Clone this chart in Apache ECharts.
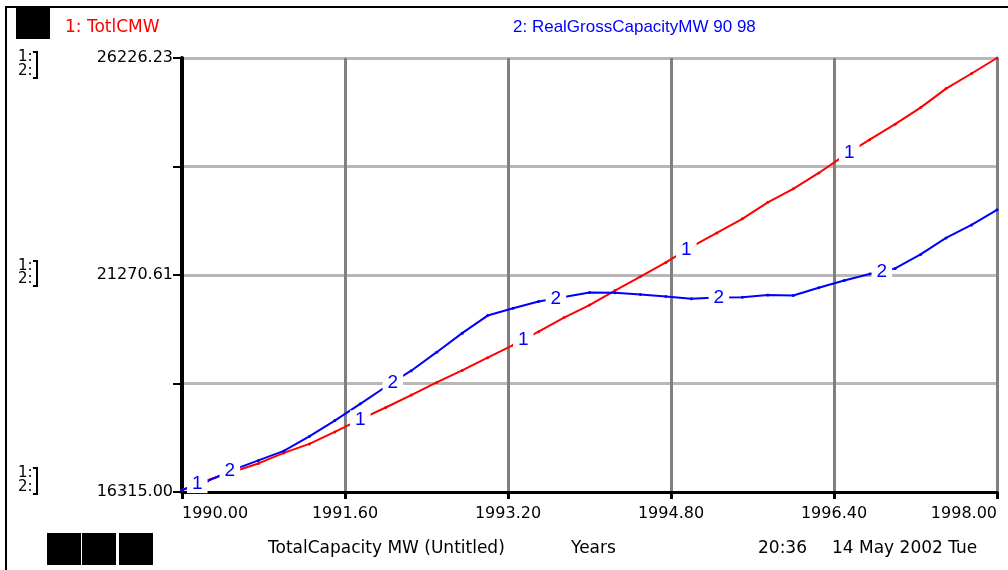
<!DOCTYPE html>
<html>
<head>
<meta charset="utf-8">
<title>TotalCapacity MW</title>
<script src="https://cdn.jsdelivr.net/npm/echarts@6/dist/echarts.min.js"></script>
<style>
    html, body { margin: 0; padding: 0; background: #fff; }
    #chart { width: 1008px; height: 570px; }
</style>
</head>
<body>
<div id="chart"></div>
<script>
// time axis (DT = 0.25 years)
const years = [1990.00, 1990.25, 1990.50, 1990.75, 1991.00, 1991.25, 1991.50, 1991.75,
    1992.00, 1992.25, 1992.50, 1992.75, 1993.00, 1993.25, 1993.50, 1993.75,
    1994.00, 1994.25, 1994.50, 1994.75, 1995.00, 1995.25, 1995.50, 1995.75,
    1996.00, 1996.25, 1996.50, 1996.75, 1997.00, 1997.25, 1997.50, 1997.75, 1998.00];

// 1: TotlCMW
const totlCMW = [16361, 16585, 16777, 16967, 17208, 17414, 17688, 17975,
    18245, 18528, 18817, 19092, 19382, 19668, 19977, 20298,
    20584, 20916, 21236, 21557, 21912, 22232, 22553, 22930,
    23239, 23601, 23995, 24361, 24716, 25093, 25528, 25872, 26226];

// 2: RealGrossCapacityMW 90 98
const realGross = [16361, 16567, 16819, 17036, 17253, 17585, 17945, 18329,
    18718, 19085, 19508, 19943, 20344, 20511, 20664, 20767,
    20870, 20863, 20824, 20779, 20726, 20756, 20763, 20813,
    20801, 20978, 21145, 21294, 21420, 21740, 22118, 22415, 22759];

// where the curve numbers sit on each line
const label1Years = [1990.15, 1991.75, 1993.35, 1994.95, 1996.55];
const label2Years = [1990.47, 1992.07, 1993.67, 1995.27, 1996.87];

const xTickLabels = ['1990.00', '1991.60', '1993.20', '1994.80', '1996.40', '1998.00'];
const yTickLabels = ['16315.00', '', '21270.61', '', '26226.23'];

const X_START = 1990;
const Y_MIN = 16315.00;
const Y_MAX = 26226.23;

const FONT = '"Liberation Sans", Arial, sans-serif';
const WIDE = '"DejaVu Sans", Verdana, sans-serif';

// axes run from 0 so the ticks start at a multiple of the interval
function toPoints(vals) {
    return years.map((t, i) => [t - X_START, vals[i] - Y_MIN]);
}

function valueAt(vals, t) {
    for (let i = 0; i < years.length - 1; i++) {
        if (t >= years[i] && t <= years[i + 1]) {
            let f = (t - years[i]) / (years[i + 1] - years[i]);
            return vals[i] + f * (vals[i + 1] - vals[i]);
        }
    }
    return vals[vals.length - 1];
}

function labelPoints(vals, ys) {
    return ys.map(t => [t - X_START, valueAt(vals, t) - Y_MIN]);
}

function curveLabelSeries(vals, ys, txt) {
    return {
        type: 'scatter',
        data: labelPoints(vals, ys),
        symbolSize: 1,
        itemStyle: { color: '#ffffff', opacity: 0 },
        z: 5,
        label: {
            show: true,
            position: 'inside',
            formatter: txt,
            color: '#0000ff',
            opacity: 1,
            textBorderWidth: 0,
            textBorderColor: 'transparent',
            fontFamily: FONT,
            fontSize: 19,
            backgroundColor: '#ffffff',
            padding: [0, 5, 0, 5],
            lineHeight: 18
        }
    };
}

function pairMarker(y1, y2) {
    // the "1: / 2:" bracket at the left of each labelled tick
    return [
        { type: 'text', left: 18, top: y1 - 8, style: { text: '1:', fill: '#000', font: '15px ' + WIDE } },
        { type: 'text', left: 18, top: y2 - 8, style: { text: '2:', fill: '#000', font: '15px ' + WIDE } },
        {
            type: 'polyline',
            shape: { points: [[33, y1 - 6], [37, y1 - 6], [37, y2 + 6], [33, y2 + 6]] },
            style: { stroke: '#000', lineWidth: 2, fill: null }
        }
    ];
}

var myChart = echarts.init(document.getElementById('chart'), null, { renderer: 'canvas' });

var graphics = [
    // outer frame
    {
        type: 'polyline',
        shape: { points: [[6, 580], [6, 7], [1020, 7]] },
        style: { stroke: '#000', lineWidth: 2, fill: null }
    },
    { type: 'rect', shape: { x: 16, y: 7, width: 34, height: 32 }, style: { fill: '#000' } },
    { type: 'rect', shape: { x: 47, y: 533, width: 34, height: 32 }, style: { fill: '#000' } },
    { type: 'rect', shape: { x: 82, y: 533, width: 34, height: 32 }, style: { fill: '#000' } },
    { type: 'rect', shape: { x: 119, y: 533, width: 34, height: 32 }, style: { fill: '#000' } },
    // legend
    { type: 'text', left: 65, top: 19, style: { text: '1: TotlCMW', fill: '#ff0000', font: '17px ' + WIDE } },
    { type: 'text', left: 513, top: 19, style: { text: '2: RealGrossCapacityMW 90 98', fill: '#0000ff', font: '17px ' + FONT } },
    // footer
    { type: 'text', left: 268, top: 540, style: { text: 'TotalCapacity MW (Untitled)', fill: '#000', font: '17px ' + WIDE } },
    { type: 'text', left: 571, top: 540, style: { text: 'Years', fill: '#000', font: '17px ' + WIDE } },
    { type: 'text', left: 758, top: 540, style: { text: '20:36', fill: '#000', font: '17px ' + WIDE } },
    { type: 'text', left: 832, top: 540, style: { text: '14 May 2002 Tue', fill: '#000', font: '17px ' + WIDE } }
];
graphics = graphics
    .concat(pairMarker(58, 72))
    .concat(pairMarker(267, 280))
    .concat(pairMarker(474, 488));

var option = {
    animation: false,
    backgroundColor: '#ffffff',
    grid: { left: 182, right: 11, top: 58, bottom: 78, containLabel: false },
    xAxis: {
        type: 'value',
        min: 0,
        max: 8,
        interval: 1.6,
        axisLine: { show: true, onZero: false, lineStyle: { color: '#000', width: 3 } },
        axisTick: { show: true, inside: false, length: 7, lineStyle: { color: '#000', width: 3 } },
        axisLabel: {
            color: '#000',
            fontFamily: WIDE,
            fontSize: 16,
            margin: 14,
            alignMinLabel: 'left',
            alignMaxLabel: 'right',
            formatter: function (v, idx) { return xTickLabels[idx] || ''; }
        },
        splitLine: { show: true, lineStyle: { color: '#808080', width: 3, type: 'solid' } }
    },
    yAxis: {
        type: 'value',
        min: 0,
        max: Y_MAX - Y_MIN,
        interval: (Y_MAX - Y_MIN) / 4,
        axisLine: { show: true, onZero: false, lineStyle: { color: '#000', width: 4 } },
        axisTick: { show: true, inside: false, length: 9, lineStyle: { color: '#000', width: 2 } },
        axisLabel: {
            color: '#000',
            fontFamily: WIDE,
            fontSize: 16,
            margin: 9,
            formatter: function (v, idx) { return yTickLabels[idx] || ''; }
        },
        splitLine: { show: true, lineStyle: { color: '#b8b8b8', width: 3, type: 'solid' } }
    },
    series: [
        {
            name: 'TotlCMW',
            type: 'line',
            data: toPoints(totlCMW),
            symbol: 'circle',
            symbolSize: 3,
            showSymbol: true,
            itemStyle: { color: '#ff0000' },
            lineStyle: { color: '#ff0000', width: 2 },
            z: 3
        },
        {
            name: 'RealGrossCapacityMW 90 98',
            type: 'line',
            data: toPoints(realGross),
            symbol: 'circle',
            symbolSize: 3,
            showSymbol: true,
            itemStyle: { color: '#0000ff' },
            lineStyle: { color: '#0000ff', width: 2 },
            z: 3
        },
        curveLabelSeries(totlCMW, label1Years, '1'),
        curveLabelSeries(realGross, label2Years, '2')
    ],
    graphic: graphics
};

myChart.setOption(option);
window.onresize = function () {
    myChart.resize();
};
</script>
</body>
</html>
